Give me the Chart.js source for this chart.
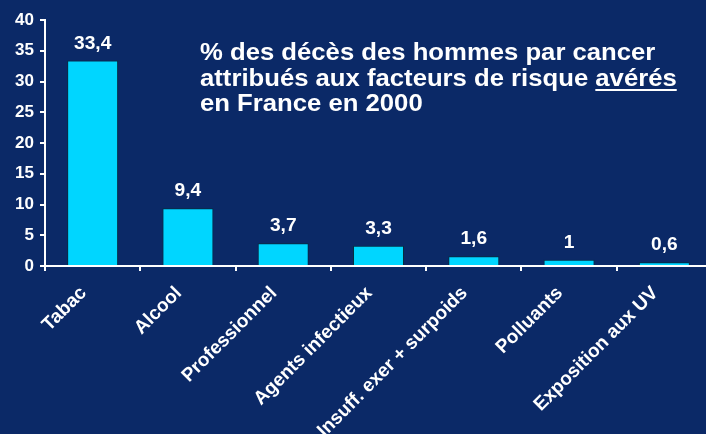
<!DOCTYPE html>
<html>
<head>
<meta charset="utf-8">
<script src="https://cdn.jsdelivr.net/npm/chart.js@4/dist/chart.umd.min.js"></script>
<style>
  html, body { margin: 0; padding: 0; background: #0b2967; overflow: hidden; width: 706px; height: 434px; }
  #wrap { position: relative; width: 712px; height: 434px; }
  #title { position: absolute; left: 200px; top: 39px; color: #fff; font: bold 24px "Liberation Sans", Arial, sans-serif; line-height: 25.5px; white-space: nowrap; transform: scaleX(1.07); transform-origin: 0 0; }
  #title u { text-decoration-thickness: 2px; text-underline-offset: 3px; }
</style>
</head>
<body>
<div id="wrap">
  <canvas id="c" width="712" height="434"></canvas>
  <div id="title">% des décès des hommes par cancer<br>attribués aux facteurs de risque <u>avérés</u><br>en France en 2000</div>
</div>
<script>
const categories = ["Tabac", "Alcool", "Professionnel", "Agents infectieux", "Insuff. exer + surpoids", "Polluants", "Exposition aux UV"];
const values = [33.4, 9.4, 3.7, 3.3, 1.6, 1, 0.6];
const valueLabels = ["33,4", "9,4", "3,7", "3,3", "1,6", "1", "0,6"];
const yTicks = [0, 5, 10, 15, 20, 25, 30, 35, 40];

const FONT = '"Liberation Sans", Arial, sans-serif';

const valueLabelPlugin = {
  id: 'valueLabels',
  afterDatasetsDraw(chart) {
    const ctx = chart.ctx;
    const meta = chart.getDatasetMeta(0);
    ctx.save();
    ctx.fillStyle = '#ffffff';
    ctx.font = 'bold 18px ' + FONT;
    ctx.textAlign = 'center';
    ctx.textBaseline = 'alphabetic';
    meta.data.forEach((bar, i) => {
      ctx.save();
      ctx.translate(bar.x, bar.y - 12);
      ctx.scale(1.065, 1);
      ctx.fillText(valueLabels[i], 0, 0);
      ctx.restore();
    });
    ctx.restore();
  }
};

const xLabelPlugin = {
  id: 'xLabels',
  afterDraw(chart) {
    const ctx = chart.ctx;
    const xs = chart.scales.x;
    const axisY = chart.chartArea.bottom;
    ctx.save();
    ctx.fillStyle = '#ffffff';
    ctx.font = 'bold 19px ' + FONT;
    ctx.textAlign = 'right';
    ctx.textBaseline = 'middle';
    categories.forEach((lab, i) => {
      const x = xs.getPixelForValue(i);
      ctx.save();
      ctx.translate(x, axisY + 15);
      ctx.rotate(-Math.PI / 4);
      ctx.fillText(lab, -13, 0);
      ctx.restore();
    });
    ctx.restore();
  }
};

new Chart(document.getElementById('c'), {
  type: 'bar',
  data: {
    labels: categories,
    datasets: [{
      data: values,
      backgroundColor: '#00d6ff',
      borderColor: '#05303f',
      borderWidth: 1,
      borderSkipped: 'bottom',
      barPercentage: 0.535,
      categoryPercentage: 1
    }]
  },
  options: {
    responsive: false,
    animation: false,
    events: [],
    layout: { padding: { top: 20, right: 0, left: 0, bottom: 0 } },
    plugins: { legend: { display: false }, tooltip: { enabled: false }, title: { display: false } },
    scales: {
      x: {
        afterFit(scale) { scale.height = 168; },
        border: { color: '#ffffff', width: 2 },
        grid: { display: true, drawOnChartArea: false, drawTicks: true, tickLength: 5, color: '#ffffff', lineWidth: 2, offset: true },
        ticks: { display: false }
      },
      y: {
        min: 0, max: 40,
        afterFit(scale) { scale.width = 45; },
        afterBuildTicks(scale) { scale.ticks = yTicks.map(v => ({ value: v })); },
        border: { color: '#ffffff', width: 2 },
        grid: { display: true, drawOnChartArea: false, drawTicks: true, tickLength: 5, color: '#ffffff', lineWidth: 2 },
        ticks: {
          color: '#ffffff',
          font: { family: FONT, size: 17, weight: 'bold' },
          padding: 6
        }
      }
    }
  },
  plugins: [valueLabelPlugin, xLabelPlugin]
});
</script>
</body>
</html>
